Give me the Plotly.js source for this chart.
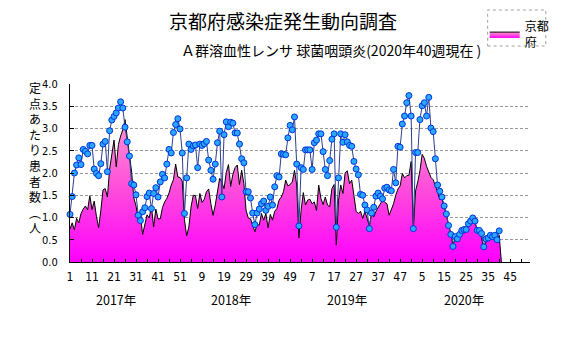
<!DOCTYPE html>
<html>
<head>
<meta charset="utf-8">
<script src="https://cdn.plot.ly/plotly-3.0.1.min.js"></script>
<style>html,body{margin:0;padding:0;background:#fff}#chart{width:567px;height:339px}</style>
</head>
<body>
<div id="chart"></div>
<script>
// Weekly series, 2017 week 1 .. 2020 week 40 (2017-2019: 52 weeks each)
const kyoto = [
 0.74,0.88,0.72,0.98,0.88,1.09,1.19,1.26,1.17,1.49,
 1.18,1.37,1.03,0.77,1.15,1.62,1.65,1.46,2.09,2.42,
 2.74,2.14,2.64,2.83,2.97,3.2,2.8,2.31,2.02,1.44,
 1.26,0.94,1.03,0.62,0.88,1.06,0.99,1.25,0.79,1.19,
 0.97,0.97,1.22,1.35,1.43,1.55,1.73,1.85,2.2,1.91,
 1.9,1.82,0.95,0.59,0.79,1.24,1.5,1.49,1.2,1.54,
 1.34,1.41,1.58,1.64,1.31,1.05,1.28,1.54,1.88,1.79,
 1.65,2.01,2.19,1.7,1.97,2.12,2.18,1.74,2.06,1.76,
 1.16,0.99,0.97,0.83,0.68,0.84,0.83,1.09,0.94,1.09,
 0.77,1.07,0.94,1.14,1.2,1.39,1.46,1.58,1.84,1.71,
 1.74,1.8,2.06,1.73,0.54,1.16,1.56,1.28,1.39,1.41,
 1.31,1.35,1.16,1.73,1.43,1.29,1.46,1.28,1.24,1.65,
 1.74,0.38,1.39,1.73,1.54,2.0,2.05,1.76,1.84,1.5,
 1.14,1.09,1.14,0.98,1.14,0.98,0.81,1.09,1.01,1.14,
 1.22,1.29,1.39,1.34,1.31,1.05,1.16,1.31,1.5,1.64,
 1.71,1.99,1.89,1.94,1.95,2.26,0.74,1.6,1.8,2.05,
 2.42,2.33,2.15,2.0,1.9,1.85,1.72,1.57,1.4,1.42,
 1.25,1.06,0.83,0.65,0.38,0.54,0.45,0.66,0.71,0.64,
 0.77,0.86,0.83,1.01,0.89,0.71,0.65,0.55,0.27,0.45,
 0.53,0.57,0.6,0.6,0.45,0.6,0
];
const national = [
 1.07,1.47,2.0,2.18,2.34,2.19,2.53,2.49,2.43,2.62,
 2.62,2.09,1.99,1.94,2.21,2.65,2.71,2.03,2.95,3.19,
 3.27,3.35,3.46,3.6,3.46,3.03,2.7,2.38,1.76,1.73,
 1.51,1.05,0.93,1.13,1.22,1.47,1.55,1.2,1.54,1.67,
 1.46,1.8,1.97,1.89,2.2,2.53,2.45,2.91,3.09,3.22,
 2.99,2.45,1.09,1.89,2.65,2.53,2.61,2.63,2.12,2.65,
 2.62,2.66,2.71,2.29,2.06,1.86,2.2,2.68,2.94,1.46,
 2.86,3.15,3.04,3.14,3.12,2.9,2.9,2.65,2.32,2.23,
 1.58,1.58,1.44,1.1,0.84,1.1,1.19,1.31,1.37,1.16,
 1.25,1.46,1.28,1.69,1.94,1.91,2.43,2.42,2.41,2.79,
 3.07,2.97,3.26,2.2,0.81,2.12,2.08,2.52,2.52,2.52,
 2.08,2.68,2.74,2.88,2.88,2.48,2.08,1.94,2.28,2.76,
 2.88,0.78,1.89,2.88,2.69,2.86,2.7,2.62,2.6,2.26,
 2.09,1.96,1.52,1.5,1.28,1.17,0.75,1.1,1.23,1.48,
 1.55,1.48,1.42,1.66,1.68,1.62,1.6,2.08,1.78,2.6,
 2.58,3.1,3.28,3.58,3.74,3.28,0.75,2.46,2.46,3.2,
 3.51,3.58,3.28,3.7,3.01,2.93,2.32,1.73,1.59,1.46,
 1.26,1.08,0.82,0.62,0.35,0.57,0.52,0.62,0.71,0.73,
 0.73,0.86,0.92,0.99,0.92,0.71,0.71,0.64,0.34,0.52,
 0.54,0.6,0.57,0.6,0.5,0.7
];
const xTickLabels = ['1','11','21','31','41','51','9','19','29','39','49','7','17','27','37','47','5','15','25','35','45'];
const yearLabels = ['2017年','2018年','2019年','2020年'];
const seriesName = '京都<br>府';
const titleText = '京都府感染症発生動向調査';
const subtitleText = 'Ａ群溶血性レンサ 球菌咽頭炎(2020年40週現在 )';
const yTitleChars = ['定','点','あ','た','り','患','者','数','︵','人'];

const idx = arr => arr.map((_, i) => i);
const tickStep = 10;
const xTickVals = xTickLabels.map((_, i) => i * tickStep);
const yearPos = [21, 73, 126, 179];

const FONT = 'Noto Sans CJK JP, sans-serif';
const NARROW = 'Liberation Sans Narrow, DejaVu Sans Condensed, sans-serif';

const traces = [
  {
    type: 'scatter', mode: 'lines', name: seriesName,
    x: idx(kyoto), y: kyoto,
    line: {color: '#000000', width: 1},
    fill: 'tozeroy',
    fillgradient: {type: 'vertical', start: 0, stop: 3.3,
      colorscale: [[0, '#ff00ff'], [0.5, '#ff4ddb'], [1, '#ff9ad2']]},
    hoverinfo: 'skip'
  },
  {
    type: 'scatter', mode: 'lines+markers', name: '全国', showlegend: false,
    x: idx(national), y: national,
    line: {color: '#2e3f8f', width: 1},
    marker: {symbol: 'circle', size: 6, color: '#2aa8ff', line: {color: '#0033dd', width: 1}},
    cliponaxis: false,
    hoverinfo: 'skip'
  }
];

const px2paperX = px => (px - 70) / 467;
const px2paperY = py => 1 - (py - 84) / 178;

const layout = {
  width: 567, height: 339,
  margin: {l: 70, r: 30, t: 84, b: 77, pad: 0},
  paper_bgcolor: '#ffffff', plot_bgcolor: '#ffffff',
  font: {family: FONT, color: '#000000', size: 12},
  title: {text: titleText, font: {family: FONT, size: 19, color: '#000'},
          x: 283 / 567, xanchor: 'center', y: 1 - 22 / 339, yanchor: 'middle'},
  showlegend: true,
  legend: {x: px2paperX(491), y: px2paperY(12), xanchor: 'left', yanchor: 'top',
           bgcolor: 'rgba(0,0,0,0)', borderwidth: 0, itemwidth: 30,
           font: {family: FONT, size: 12}, tracegroupgap: 0},
  xaxis: {
    range: [0, 209], showgrid: false, zeroline: false,
    showline: true, linecolor: '#000', linewidth: 1,
    tickmode: 'array', tickvals: xTickVals, ticktext: xTickLabels,
    ticks: 'inside', ticklen: 3, tickcolor: '#000', tickwidth: 1,
    minor: {tickmode: 'linear', tick0: 5, dtick: 10, ticks: 'inside', ticklen: 3, tickcolor: '#000', showgrid: false},
    tickfont: {family: NARROW, size: 12},
    ticklabelstandoff: 4
  },
  yaxis: {
    range: [0, 4], tickmode: 'linear', tick0: 0, dtick: 0.5, tickformat: '.1f',
    showgrid: true, gridcolor: '#9a9a9a', griddash: '3px,2px', gridwidth: 1,
    zeroline: false, showline: true, linecolor: '#000', linewidth: 1,
    ticks: 'inside', ticklen: 4, tickcolor: '#000',
    tickfont: {family: NARROW, size: 11},
    ticklabelstandoff: 9
  },
  shapes: [
    {type: 'rect', xref: 'paper', yref: 'paper',
     x0: px2paperX(494), x1: px2paperX(553), y0: px2paperY(46), y1: px2paperY(10),
     line: {color: '#a0a0a0', width: 1, dash: 'dot'}, fillcolor: 'rgba(0,0,0,0)'}
  ],
  annotations: [
    {text: subtitleText, xref: 'paper', yref: 'paper', x: px2paperX(335), y: px2paperY(50),
     xanchor: 'center', yanchor: 'middle', showarrow: false, font: {family: FONT, size: 14}},
    {text: yTitleChars.join('<br>'), xref: 'paper', yref: 'paper', x: px2paperX(34), y: px2paperY(157),
     xanchor: 'center', yanchor: 'middle', showarrow: false, font: {family: FONT, size: 12}}
  ].concat(yearLabels.map((t, i) => ({
     text: t, xref: 'x', yref: 'paper', x: yearPos[i], y: px2paperY(299),
     xanchor: 'center', yanchor: 'middle', showarrow: false, font: {family: FONT, size: 12.5}
  })))
};

Plotly.newPlot('chart', traces, layout, {staticPlot: true, displayModeBar: false});
</script>
</body>
</html>
